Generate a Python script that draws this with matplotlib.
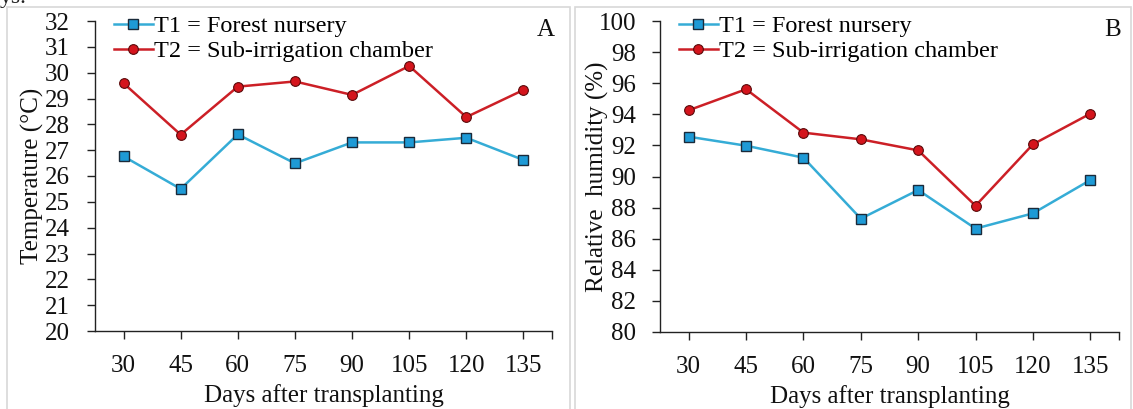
import matplotlib
matplotlib.use("Agg")
import matplotlib.pyplot as plt
from matplotlib.patches import Rectangle

days = [30, 45, 60, 75, 90, 105, 120, 135]
temp_t1 = [26.76, 25.50, 27.61, 26.49, 27.30, 27.30, 27.48, 26.62]
temp_t2 = [29.59, 27.60, 29.46, 29.66, 29.14, 30.26, 28.28, 29.33]
rh_t1 = [92.56, 91.98, 91.21, 87.29, 89.13, 86.65, 87.63, 89.77]
rh_t2 = [94.26, 95.61, 92.82, 92.39, 91.68, 88.12, 92.07, 94.04]
label_t1 = "T1 = Forest nursery"
label_t2 = "T2 = Sub-irrigation chamber"

plt.rcParams['font.family'] = ['Liberation Serif', 'DejaVu Serif']

W, H = 1133, 409
fig = plt.figure(figsize=(W / 100, H / 100), dpi=100)

def px_axes(l, r, t, b):
    return fig.add_axes([l / W, 1 - b / H, (r - l) / W, (b - t) / H])

# panel frames
for (x0, x1) in [(7, 570), (575, 1131)]:
    fig.patches.append(Rectangle((x0 / W, -0.05), (x1 - x0) / W, 1.05 - 7 / H,
                                 transform=fig.transFigure, fill=False,
                                 edgecolor='#d8d8d8', linewidth=1.2))

fig.text(0.0, 1.005, "ys.", fontsize=17, ha='left', va='center', color='#222222')

blue_line = '#35acd6'
blue_fill = '#1e9ad6'
red_line = '#cc1f26'
red_fill = '#d4141c'

def draw(ax, y1, y2, ylim, ystep, ylabel, letter, ylabelpad, ypad):
    ax.plot(days, y1, color=blue_line, lw=1.8, marker='s', ms=7,
            mfc=blue_fill, mec='#1a2a3a', mew=1.0, label=label_t1, zorder=3)
    ax.plot(days, y2, color=red_line, lw=1.8, marker='o', ms=7,
            mfc=red_fill, mec='#5a0a0a', mew=0.8, label=label_t2, zorder=3)
    ax.set_xlim(22.5, 142.5)
    ax.set_ylim(*ylim)
    ax.set_yticks(range(ylim[0], ylim[1] + 1, ystep))
    ax.set_xticks(days + [142.5])
    ax.set_xticklabels([str(d) for d in days] + [''])
    for s in ['top', 'right']:
        ax.spines[s].set_visible(False)
    for s in ['left', 'bottom']:
        ax.spines[s].set_color('#222222')
        ax.spines[s].set_linewidth(1.0)
    ax.tick_params(axis='both', direction='out', length=6, width=1.0,
                   color='#222222', labelsize=18, labelcolor='#111111')
    ax.tick_params(axis='x', pad=11)
    ax.tick_params(axis='y', pad=ypad)
    ax.set_xlabel("Days after transplanting", fontsize=18, labelpad=5, color='#111111')
    ax.set_ylabel(ylabel, fontsize=18, labelpad=ylabelpad, color='#111111')
    ax.legend(loc='upper left', bbox_to_anchor=(0.02, 1.05), frameon=False,
              fontsize=17.5, handlelength=1.6, handletextpad=0.05,
              labelspacing=0.12, borderaxespad=0.0)
    ax.text(1.005, 0.97, letter, transform=ax.transAxes, fontsize=18,
            ha='right', va='center', color='#111111')

axA = px_axes(95, 552, 21, 331)
draw(axA, temp_t1, temp_t2, (20, 32), 1, "Temperature (°C)", "A", 1, 12)
axB = px_axes(660, 1119, 21, 332)
draw(axB, rh_t1, rh_t2, (80, 100), 2, "Relative  humidity (%)", "B", -7, 11)

fig.savefig("out.png", dpi=100)
